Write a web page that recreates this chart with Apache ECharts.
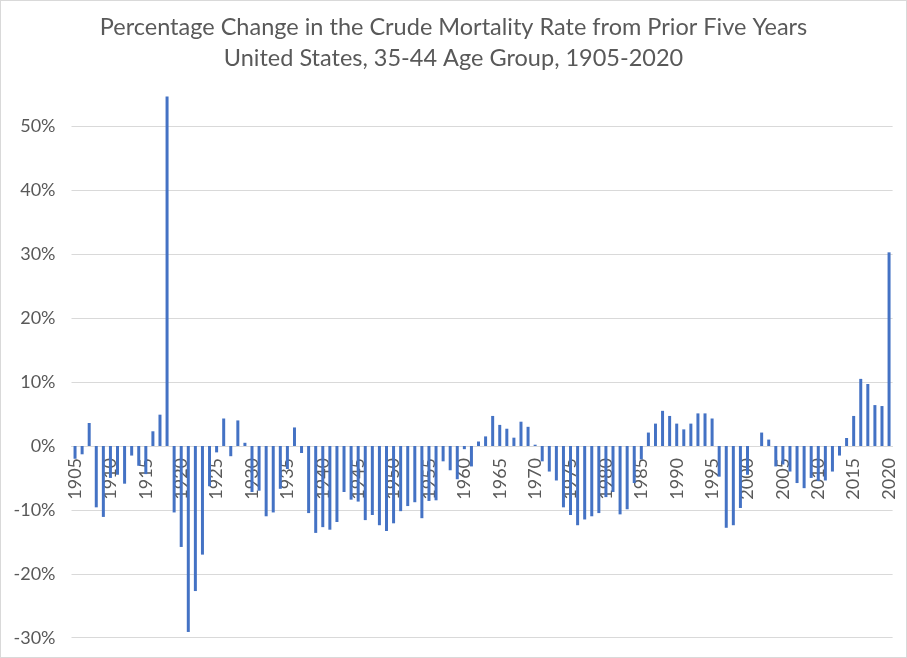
<!DOCTYPE html>
<html>
<head>
<meta charset="utf-8">
<script src="https://cdn.jsdelivr.net/npm/echarts@6/dist/echarts.min.js"></script>
<style>
html,body{margin:0;padding:0;background:#fff;}
#wrap{width:905px;height:656px;border:1px solid #d9d9d9;position:relative;}
#chart{width:907px;height:658px;position:absolute;left:-1px;top:-1px;}
</style>
</head>
<body>
<div id="wrap"><div id="chart"></div></div>
<script>
const titleLines = ['Percentage Change in the Crude Mortality Rate from Prior Five Years', 'United States, 35-44 Age Group, 1905-2020'];
const firstYear = 1905, lastYear = 2020;
const years = [];
for (let y = firstYear; y <= lastYear; y++) years.push(String(y));
// percentage change values, 1905..2020
const pctChange = [
  -2.0, -1.3, 3.6, -9.6, -11.1, -5.0, -4.5, -5.9, -1.5, -3.1,
  -4.4, 2.3, 4.9, 54.7, -10.4, -15.8, -29.1, -22.7, -17.0, -6.3,
  -1.0, 4.3, -1.6, 4.0, 0.5, -7.2, -7.0, -11.0, -10.4, -6.7,
  -3.6, 2.9, -1.1, -10.5, -13.6, -12.7, -13.1, -11.9, -7.2, -8.4,
  -8.7, -11.6, -10.8, -12.4, -13.3, -12.1, -10.2, -9.4, -8.8, -11.3,
  -8.6, -8.5, -2.4, -3.8, -5.2, -0.5, -3.2, 0.7, 1.5, 4.7,
  3.3, 2.7, 1.3, 3.8, 3.0, 0.2, -2.4, -4.0, -5.4, -9.6,
  -10.8, -12.4, -11.5, -11.0, -10.5, -8.0, -7.2, -10.7, -9.9, -5.8,
  -2.1, 2.1, 3.5, 5.5, 4.7, 3.5, 2.6, 3.5, 5.1, 5.1,
  4.3, -4.8, -12.8, -12.4, -9.7, -4.5, 0.0, 2.1, 1.0, -3.2,
  -2.9, -4.0, -5.8, -6.6, -5.0, -5.5, -5.4, -4.0, -1.5, 1.25,
  4.7, 10.5, 9.7, 6.4, 6.25, 30.3
];
const yTicks = { min: -30, max: 55, step: 10 };

const gridTop = 94.5, gridBottom = 20.3, chartH = 658;
const plotH = chartH - gridTop - gridBottom;
// distance from bottom of plot to the zero line, used to place the category axis on zero
const zeroOffset = plotH * (0 - yTicks.min) / (yTicks.max - yTicks.min);

const chart = echarts.init(document.getElementById('chart'), null, { renderer: 'canvas' });
const fontFam = 'Lato, "Open Sans", sans-serif';
chart.setOption({
  animation: false,
  title: {
    text: titleLines.join('\n'),
    left: 'center',
    top: 7,
    textStyle: { fontFamily: fontFam, fontSize: 23.5, fontWeight: 'normal', color: '#595959', lineHeight: 31 }
  },
  grid: { left: 71.5, right: 14.4, top: gridTop, bottom: gridBottom, containLabel: false, outerBoundsMode: 'none' },
  xAxis: {
    type: 'category',
    data: years,
    position: 'bottom',
    offset: -zeroOffset,
    axisLine: { onZero: false, lineStyle: { color: '#d9d9d9', width: 1 } },
    axisTick: { show: false },
    axisLabel: {
      interval: 4,
      rotate: 90,
      margin: 12,
      fontFamily: fontFam,
      fontSize: 18,
      color: '#595959'
    },
    splitLine: { show: false }
  },
  yAxis: {
    type: 'value',
    min: yTicks.min,
    max: yTicks.max,
    interval: yTicks.step,
    axisLine: { show: false },
    axisTick: { show: false },
    axisLabel: {
      margin: 16,
      fontFamily: fontFam,
      fontSize: 18,
      color: '#595959',
      showMaxLabel: false,
      formatter: function (v) { return (v % 10 === 0) ? v + '%' : ''; }
    },
    splitLine: {
      lineStyle: {
        color: ['#d9d9d9','#d9d9d9','#d9d9d9','#d9d9d9','#d9d9d9','#d9d9d9','#d9d9d9','#d9d9d9','#d9d9d9','rgba(0,0,0,0)'],
        width: 1
      }
    }
  },
  series: [{
    type: 'bar',
    data: pctChange,
    barWidth: 3,
    itemStyle: { color: '#4472C4' }
  }]
});
</script>
</body>
</html>
